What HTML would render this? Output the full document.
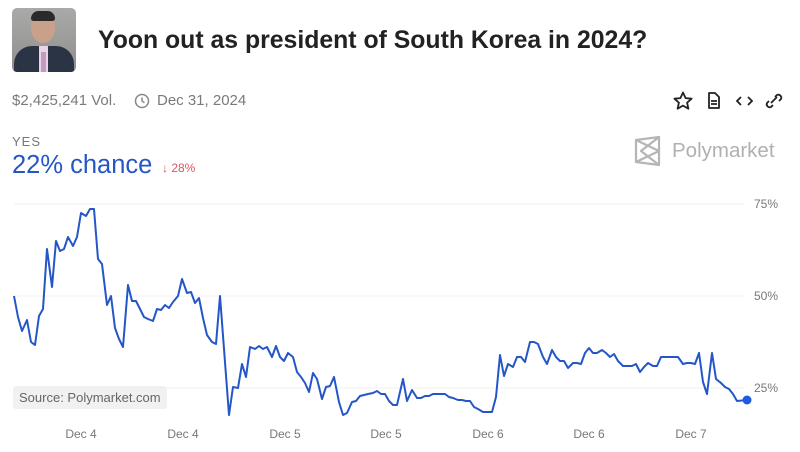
<!DOCTYPE html>
<html><head><style>
body{margin:0;width:800px;height:452px;background:#fff;font-family:"Liberation Sans",sans-serif;position:relative;overflow:hidden}
.a{position:absolute;white-space:nowrap}
</style></head><body>
<div class="a" style="left:12px;top:8px;width:64px;height:64px;border-radius:5px;background:linear-gradient(180deg,#a9aaa8 0%,#9c9d9b 50%,#8e8f8d 100%);overflow:hidden">
<div style="position:absolute;left:19px;top:5px;width:24px;height:30px;border-radius:50%;background:#c9a08a"></div>
<div style="position:absolute;left:19px;top:3px;width:24px;height:10px;border-radius:12px 12px 4px 4px;background:#2a2a2a"></div>
<div style="position:absolute;left:2px;top:38px;width:60px;height:30px;border-radius:18px 18px 0 0;background:#2b3444"></div>
<div style="position:absolute;left:27px;top:38px;width:9px;height:26px;background:#e8d6e4"></div>
<div style="position:absolute;left:29px;top:44px;width:5px;height:20px;background:#c49ac0"></div>
</div>
<div class="a" style="left:98px;top:27px;font-size:24.8px;font-weight:bold;color:#222">Yoon out as president of South Korea in 2024?</div>
<div class="a" style="left:12px;top:92px;font-size:15px;color:#7a7a7a">$2,425,241 Vol.</div>
<svg class="a" style="left:134px;top:93px" width="16" height="16"><circle cx="8" cy="8" r="6.5" fill="none" stroke="#888" stroke-width="1.5"/><path d="M8 4.5V8l2.5 1.8" fill="none" stroke="#888" stroke-width="1.5"/></svg>
<div class="a" style="left:157px;top:92px;font-size:15px;color:#7a7a7a">Dec 31, 2024</div>
<svg class="a" style="left:672px;top:90px" width="115" height="22" fill="none" stroke="#222" stroke-width="1.8">
<path d="M11 2.5l2.6 5.6 6 .6-4.5 4 1.3 6-5.4-3.1-5.4 3.1 1.3-6-4.5-4 6-.6z" stroke-linejoin="round"/>
<path d="M37 3h6l4 4v11h-10z" stroke-linejoin="round"/><path d="M39 11h6M39 14h6"/>
<path d="M69 7l-4 4 4 4M76 7l4 4-4 4"/>
<path d="M99 13l6-6M97 11l-2 2a3 3 0 004 4l2-2M107 11l2-2a3 3 0 00-4-4l-2 2"/>
</svg>
<div class="a" style="left:12px;top:134px;font-size:13px;color:#777;letter-spacing:1px">YES</div>
<div class="a" style="left:12px;top:151px;font-size:25.5px;color:#2556c8">22% chance</div>
<div class="a" style="left:162px;top:161px;font-size:12px;color:#e0535b">↓ 28%</div>
<svg class="a" style="left:633px;top:136px" width="30" height="30" fill="none" stroke="#b5b5b5" stroke-width="2.2" stroke-linejoin="round"><path d="M3 4l23-3v28L3 26z"/><path d="M3 4l23 11L3 26"/><path d="M26 1L8 15l18 14"/></svg>
<div class="a" style="left:672px;top:139px;font-size:20.5px;color:#b0b0b0">Polymarket</div>
<svg class="a" style="left:0;top:0" width="800" height="452">
<g stroke="#f0f0f0" stroke-width="1"><line x1="14" y1="204" x2="745" y2="204"/><line x1="14" y1="296" x2="745" y2="296"/><line x1="14" y1="388" x2="745" y2="388"/></g>
<g font-size="12" fill="#777" font-family="Liberation Sans"><text x="754" y="208">75%</text><text x="754" y="300">50%</text><text x="754" y="392">25%</text>
<g text-anchor="middle"><text x="81" y="438">Dec 4</text><text x="183" y="438">Dec 4</text><text x="285" y="438">Dec 5</text><text x="386" y="438">Dec 5</text><text x="488" y="438">Dec 6</text><text x="589" y="438">Dec 6</text><text x="691" y="438">Dec 7</text></g></g>
<rect x="13" y="386" width="154" height="23" rx="3" fill="#f0f0f0" opacity="0.9"/>
<text x="19" y="402" font-size="13" fill="#666" font-family="Liberation Sans">Source: Polymarket.com</text>
<polyline fill="none" stroke="#2556c8" stroke-width="2" stroke-linejoin="round" points="14,296 18,317 22,331 27,320 31,342 35,345 39,316 43,309 47,249 52,287 56,241 60,251 64,249 68,237 73,246 77,237 81,213 86,216 90,209 94,209 98,259 102,264 107,305 111,296 115,328 119,339 123,347 128,285 132,301 136,301 140,309 144,317 148,319 153,321 157,309 161,310 165,305 169,308 173,302 178,296 182,279 187,293 191,292 195,303 199,298 203,318 207,335 212,342 216,344 220,296 229,415 233,387 238,388 242,364 246,377 250,347 255,349 259,346 263,349 267,347 272,357 276,346 280,357 284,361 288,353 293,357 297,372 301,377 305,383 309,392 313,373 317,379 322,399 326,387 330,386 334,377 339,402 343,415 347,413 352,402 356,401 360,396 364,395 368,394 373,393 377,391 381,394 385,394 389,401 393,405 397,405 403,379 407,401 412,390 417,398 421,398 425,396 429,396 433,394 445,394 449,397 453,398 458,400 462,400 466,401 470,401 474,407 478,409 483,412 492,412 496,397 500,355 504,376 508,364 513,367 517,357 521,357 525,362 530,342 534,342 538,344 543,357 547,364 552,350 556,357 560,361 564,361 568,368 573,363 577,363 581,364 585,353 589,348 593,353 597,353 602,350 606,353 610,357 614,354 618,361 623,366 632,366 636,364 640,372 644,367 648,363 653,366 657,366 661,357 678,357 683,364 687,363 691,363 695,364 699,353 703,382 707,394 712,353 716,379 721,383 725,387 729,389 733,394 737,401 747,400"/>
<circle cx="747" cy="400" r="4.5" fill="#1f5be0"/>
</svg>
</body></html>
